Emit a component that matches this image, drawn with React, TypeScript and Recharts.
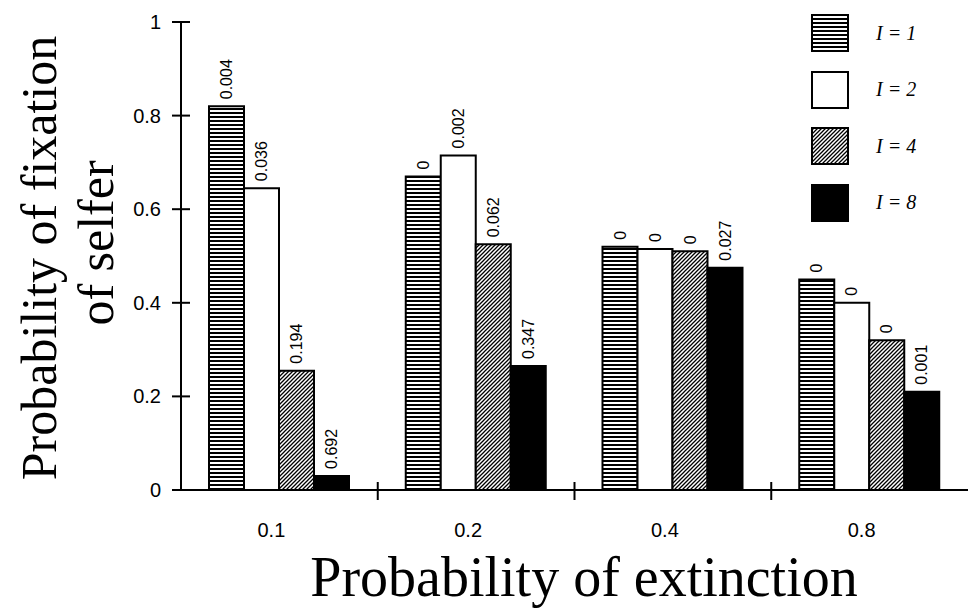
import { BarChart, Bar, XAxis, YAxis, LabelList, Legend, Label } from "recharts";

const categories = ["0.1", "0.2", "0.4", "0.8"];
const fixI1 = [0.82, 0.67, 0.52, 0.45];
const fixI2 = [0.645, 0.715, 0.515, 0.4];
const fixI4 = [0.255, 0.525, 0.51, 0.32];
const fixI8 = [0.03, 0.265, 0.475, 0.21];
const lblI1 = ["0.004", "0", "0", "0"];
const lblI2 = ["0.036", "0.002", "0", "0"];
const lblI4 = ["0.194", "0.062", "0", "0"];
const lblI8 = ["0.692", "0.347", "0.027", "0.001"];
const yTicks = [0, 0.2, 0.4, 0.6, 0.8, 1];
const seriesNames = ["I = 1", "I = 2", "I = 4", "I = 8"];

const W = 968;
const H = 612;
const MARGIN = { top: 22, right: 0, bottom: 62, left: 121 };
const YAXIS_W = 60;
const XAXIS_H = 60;
const PLOT_LEFT = MARGIN.left + YAXIS_W;
const BAND = (W - PLOT_LEFT - MARGIN.right) / categories.length;

const SANS = "'Liberation Sans', Arial, sans-serif";
const SERIF = "'Liberation Serif', 'Times New Roman', serif";

const data = categories.map((c, i) => ({
  cat: c,
  i1: fixI1[i],
  i2: fixI2[i],
  i4: fixI4[i],
  i8: fixI8[i],
  l1: lblI1[i],
  l2: lblI2[i],
  l4: lblI4[i],
  l8: lblI8[i],
}));

const series = [
  { key: "i1", label: "l1", name: seriesNames[0], fill: "url(#hstripe)" },
  { key: "i2", label: "l2", name: seriesNames[1], fill: "#fff" },
  { key: "i4", label: "l4", name: seriesNames[2], fill: "url(#diag)" },
  { key: "i8", label: "l8", name: seriesNames[3], fill: "#000" },
];

/* eslint-disable @typescript-eslint/no-explicit-any */

function BarLabel(props: any) {
  const { x, y, width, value } = props;
  const cx = Number(x) + Number(width) / 2;
  return (
    <text
      transform={`translate(${cx},${Number(y) - 7}) rotate(-90)`}
      textAnchor="start"
      dominantBaseline="central"
      fontFamily={SANS}
      fontSize={16}
      fill="#000"
    >
      {value}
    </text>
  );
}

function XTick(props: any) {
  const { x, y, payload, index } = props;
  const edge = x + BAND / 2;
  return (
    <g>
      <text x={x - 8} y={y + 47} textAnchor="middle" fontFamily={SANS} fontSize={20} fill="#000">
        {payload.value}
      </text>
      {index < categories.length - 1 && (
        <line x1={edge} x2={edge} y1={y - 8} y2={y + 10} stroke="#000" strokeWidth={2} />
      )}
    </g>
  );
}

function YTick(props: any) {
  const { x, y, payload } = props;
  return (
    <g>
      <line x1={x - 9} x2={x + 9} y1={y} y2={y} stroke="#000" strokeWidth={2} />
      <text x={x - 20} y={y} textAnchor="end" dominantBaseline="central" fontFamily={SANS} fontSize={20} fill="#000">
        {payload.value}
      </text>
    </g>
  );
}

function YTitle() {
  return (
    <g fontFamily={SERIF} fontSize={50} fill="#000">
      <text transform="translate(56,258) rotate(-90)" textAnchor="middle">
        Probability of fixation
      </text>
      <text transform="translate(113,243) rotate(-90)" textAnchor="middle">
        of selfer
      </text>
    </g>
  );
}

function XTitle() {
  return (
    <text x={584} y={596} textAnchor="middle" fontFamily={SERIF} fontSize={56} fill="#000">
      Probability of extinction
    </text>
  );
}

function LegendBox() {
  return (
    <div>
      {series.map((s) => (
        <div key={s.key} style={{ display: "flex", alignItems: "center", height: 38, marginBottom: 18.5 }}>
          <svg width={38} height={38} style={{ display: "block" }}>
            <rect x={1} y={1} width={36} height={36} fill={s.fill} stroke="#000" strokeWidth={2} />
          </svg>
          <span
            style={{
              marginLeft: 27,
              fontFamily: SERIF,
              fontStyle: "italic",
              fontSize: 20,
              color: "#000",
              whiteSpace: "pre",
            }}
          >
            {s.name}
          </span>
        </div>
      ))}
    </div>
  );
}

/* eslint-enable @typescript-eslint/no-explicit-any */

export default function App() {
  return (
    <div style={{ position: "absolute", left: 0, top: 0, width: W, height: H, background: "#fff" }}>
      <BarChart width={W} height={H} data={data} margin={MARGIN} barSize={35} barGap={0}>
        <defs>
          <pattern id="hstripe" patternUnits="userSpaceOnUse" width={4} height={4}>
            <rect width={4} height={4} fill="#fff" />
            <rect y={0} width={4} height={2} fill="#000" />
          </pattern>
          <pattern id="diag" patternUnits="userSpaceOnUse" width={4} height={4}>
            <rect width={4} height={4} fill="#fff" />
            <path d="M-1,1 l2,-2 M0,4 l4,-4 M3,5 l2,-2" stroke="#000" strokeWidth={1.3} />
          </pattern>
        </defs>
        <XAxis
          dataKey="cat"
          height={XAXIS_H}
          axisLine={{ stroke: "#000", strokeWidth: 2 }}
          tickLine={false}
          tickSize={0}
          tickMargin={0}
          tick={<XTick />}
          interval={0}
        >
          <Label content={<XTitle />} />
        </XAxis>
        <YAxis
          width={YAXIS_W}
          domain={[0, 1]}
          ticks={yTicks}
          axisLine={{ stroke: "#000", strokeWidth: 2 }}
          tickLine={false}
          tickSize={0}
          tickMargin={0}
          tick={<YTick />}
          interval={0}
        >
          <Label content={<YTitle />} />
        </YAxis>
        <Legend
          layout="horizontal"
          verticalAlign="middle"
          align="center"
          content={<LegendBox />}
          wrapperStyle={{ left: 811, top: 14, width: 150 }}
        />
        {series.map((s) => (
          <Bar
            key={s.key}
            dataKey={s.key}
            name={s.name}
            fill={s.fill}
            stroke="#000"
            strokeWidth={2}
            isAnimationActive={false}
          >
            <LabelList dataKey={s.label} content={<BarLabel />} />
          </Bar>
        ))}
      </BarChart>
    </div>
  );
}
